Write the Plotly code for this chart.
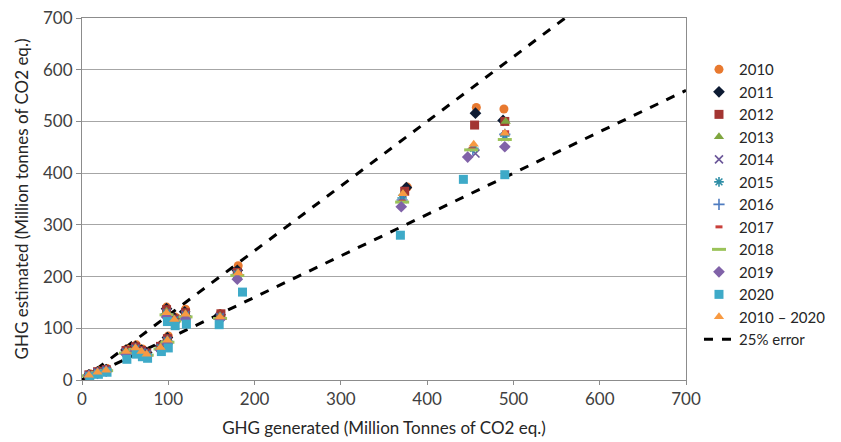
import plotly.graph_objects as go

# ---------------- data ----------------
years = ["2010", "2011", "2012", "2013", "2014", "2015", "2016", "2017", "2018", "2019", "2020", "2010 – 2020"]

x_2010 = [9, 19, 29, 52, 63, 70, 74, 92, 100, 98, 108, 120, 160, 181, 377, 457, 489]
y_2010 = [12, 18, 22, 60, 68, 60, 55, 68, 85, 141, 122, 137, 128, 221, 373, 527, 524]

x_2011 = [8, 18, 28, 51, 62, 69, 75, 91, 99, 98, 107, 119, 160, 180, 376, 456, 488]
y_2011 = [10, 16, 20, 58, 65, 58, 53, 66, 82, 138, 120, 132, 126, 212, 372, 516, 502]

x_2012 = [8, 18, 28, 51, 62, 69, 75, 91, 99, 98, 108, 120, 161, 180, 374, 455, 490]
y_2012 = [10, 16, 20, 57, 64, 57, 52, 65, 80, 136, 118, 130, 128, 208, 365, 493, 500]

x_2013 = [8, 18, 28, 51, 62, 69, 75, 91, 99, 98, 107, 120, 160, 180, 372, 453, 491]
y_2013 = [9, 15, 19, 55, 62, 55, 50, 63, 78, 133, 117, 128, 124, 207, 360, 450, 500]

x_2014 = [8, 18, 28, 51, 62, 69, 75, 91, 99, 98, 107, 120, 160, 180, 372, 456, 490]
y_2014 = [9, 15, 19, 54, 61, 54, 50, 62, 76, 130, 116, 126, 122, 205, 350, 438, 470]

x_2015 = [8, 18, 28, 51, 62, 69, 75, 91, 99, 98, 107, 120, 160, 180, 371, 454, 490]
y_2015 = [9, 14, 18, 53, 60, 53, 49, 62, 75, 128, 115, 124, 120, 204, 352, 448, 472]

x_2016 = [8, 18, 28, 51, 62, 69, 75, 91, 99, 98, 107, 120, 160, 180, 371, 453, 490]
y_2016 = [9, 14, 18, 53, 60, 53, 49, 61, 75, 128, 115, 124, 120, 204, 348, 446, 475]

x_2017 = [8, 18, 28, 51, 62, 69, 75, 91, 99, 98, 107, 120, 160, 180, 371, 452, 491]
y_2017 = [9, 14, 18, 53, 60, 53, 49, 61, 74, 127, 114, 123, 122, 203, 346, 447, 480]

x_2018 = [8, 18, 28, 51, 62, 69, 75, 91, 99, 98, 107, 120, 160, 180, 371, 451, 490]
y_2018 = [8, 14, 18, 52, 59, 52, 48, 60, 73, 126, 114, 122, 119, 202, 344, 445, 465]

x_2019 = [8, 18, 28, 51, 62, 69, 75, 91, 99, 98, 107, 120, 160, 180, 370, 447, 490]
y_2019 = [8, 13, 17, 50, 57, 50, 46, 58, 70, 122, 112, 118, 117, 195, 335, 431, 451]

x_2020 = [9, 19, 29, 52, 63, 70, 76, 92, 100, 99, 108, 121, 159, 186, 369, 442, 490]
y_2020 = [6, 11, 15, 40, 50, 45, 42, 55, 62, 113, 105, 108, 107, 170, 280, 388, 397]

x_avg = [8, 18, 28, 51, 62, 69, 75, 91, 99, 98, 107, 120, 160, 181, 372, 454, 490]
y_avg = [9, 15, 19, 55, 62, 55, 50, 63, 77, 130, 117, 127, 122, 207, 360, 456, 477]

error_factor_high = 1.25
error_factor_low = 0.8
ref_x = [0, 700]

axis_ticks = [0, 100, 200, 300, 400, 500, 600, 700]

# ---------------- styles ----------------
series = [
    (x_2010, y_2010, dict(symbol="circle", color="#E8792F", size=9)),
    (x_2011, y_2011, dict(symbol="diamond", color="#0D1B33", size=9)),
    (x_2012, y_2012, dict(symbol="square", color="#A33532", size=9)),
    (x_2013, y_2013, dict(symbol="triangle-up", color="#7FA63F", size=9)),
    (x_2014, y_2014, dict(symbol="x-thin-open", color="#6B5799", size=8, line=dict(width=1.6, color="#6B5799"))),
    (x_2015, y_2015, dict(symbol="asterisk-open", color="#2F8EA6", size=8, line=dict(width=1.6, color="#2F8EA6"))),
    (x_2016, y_2016, dict(symbol="cross-thin-open", color="#4F7CC0", size=8, line=dict(width=1.6, color="#4F7CC0"))),
    (x_2017, y_2017, dict(symbol="line-ew-open", color="#C9403B", size=5, line=dict(width=3, color="#C9403B"))),
    (x_2018, y_2018, dict(symbol="line-ew-open", color="#9BC35A", size=10, line=dict(width=3, color="#9BC35A"))),
    (x_2019, y_2019, dict(symbol="diamond", color="#8062A8", size=9)),
    (x_2020, y_2020, dict(symbol="square", color="#3EAAC8", size=9)),
    (x_avg, y_avg, dict(symbol="triangle-up", color="#F89A42", size=9)),
]

fig = go.Figure()

# 25% error lines
fig.add_trace(go.Scatter(
    x=ref_x, y=[v * error_factor_high for v in ref_x], mode="lines",
    line=dict(color="black", width=3, dash="dash"), name="25% error",
    showlegend=False, hoverinfo="skip"))
fig.add_trace(go.Scatter(
    x=ref_x, y=[v * error_factor_low for v in ref_x], mode="lines",
    line=dict(color="black", width=3, dash="dash"), name="25% error",
    showlegend=False, hoverinfo="skip"))

for name, (xs, ys, mk) in zip(years, series):
    fig.add_trace(go.Scatter(x=xs, y=ys, mode="markers", name=name, marker=mk, cliponaxis=True))

# legend entry for error line (last)
fig.add_trace(go.Scatter(
    x=[None], y=[None], mode="lines",
    line=dict(color="black", width=3, dash="dash"), name="25% error"))

font_family = "Lato, Open Sans, sans-serif"

fig.update_layout(
    width=841, height=442,
    margin=dict(l=74, r=163, t=10, b=70, autoexpand=False),
    paper_bgcolor="white", plot_bgcolor="white",
    font=dict(family=font_family, size=16, color="#404040"),
    legend=dict(x=1.0215, y=0.903, xanchor="left", yanchor="top",
                font=dict(size=15, color="#262626"),
                bgcolor="rgba(0,0,0,0)", tracegroupgap=0, itemwidth=30),
    xaxis=dict(range=[0, 700], tickvals=axis_ticks, showgrid=False, zeroline=False,
               showline=True, linecolor="#8C8C8C", linewidth=1, mirror=True,
               ticks="outside", ticklen=4, tickcolor="#8C8C8C", automargin=False,
               ticklabeloverflow="allow",
               title=dict(text="GHG generated (Million Tonnes of CO2 eq.)", font=dict(size=17, color="#262626"), standoff=13),
               tickfont=dict(size=17, color="#404040")),
    yaxis=dict(range=[0, 700], tickvals=axis_ticks, showgrid=True, gridcolor="#A6A6A6", gridwidth=1,
               zeroline=False, showline=True, linecolor="#8C8C8C", linewidth=1, mirror=True,
               ticks="outside", ticklen=5, tickcolor="#8C8C8C", automargin=False,
               ticklabeloverflow="allow",
               title=dict(text="GHG estimated (Million tonnes of CO2 eq.)", font=dict(size=17, color="#262626"), standoff=10),
               tickfont=dict(size=17, color="#404040")),
)

fig.write_html("out.html")
